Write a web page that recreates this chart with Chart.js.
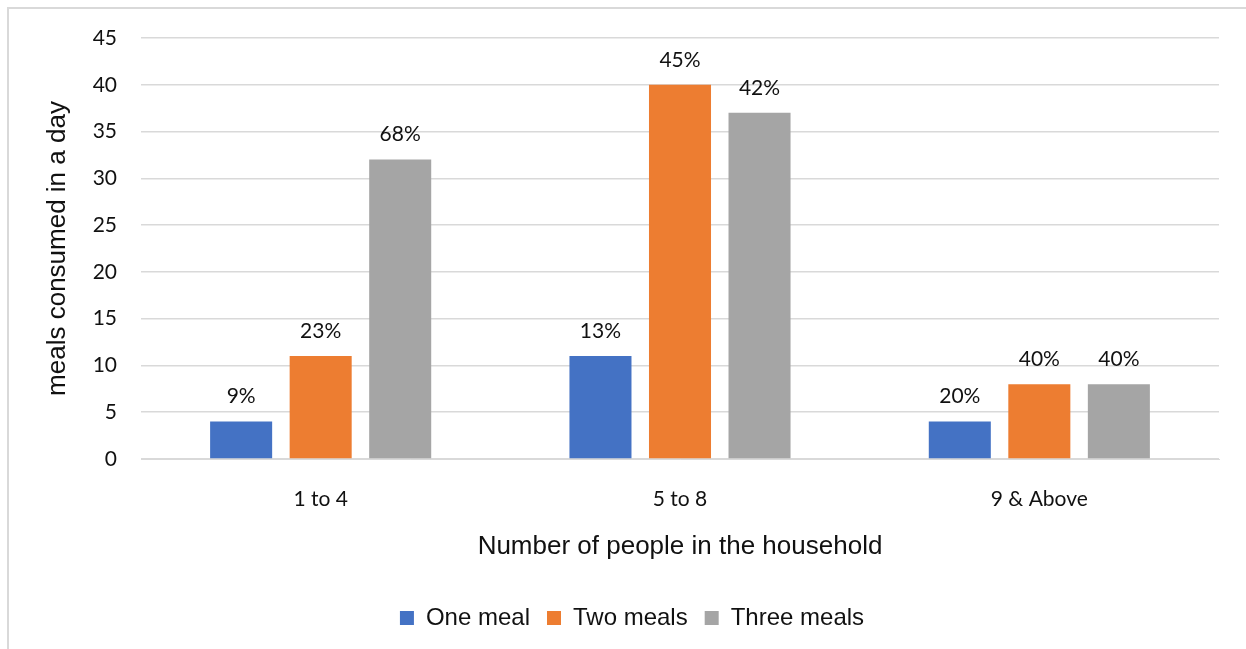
<!DOCTYPE html>
<html>
<head>
<meta charset="utf-8">
<script src="https://cdn.jsdelivr.net/npm/chart.js@4"></script>
<style>
  html, body { margin: 0; padding: 0; background: #fff; overflow: hidden; }
  #frame { position: absolute; left: 7px; top: 7px; width: 1260px; height: 680px; border: 2px solid #d9d9d9; }
  #wrap { position: absolute; left: 0; top: 0; width: 1246px; height: 649px; }
</style>
</head>
<body>
<div id="frame"></div>
<div id="wrap"><canvas id="mealsChart"></canvas></div>
<script>
const categories = ["1 to 4", "5 to 8", "9 & Above"];
const oneMeal = [4, 11, 4];
const twoMeals = [11, 40, 8];
const threeMeals = [32, 37, 8];
const oneMealPct = ["9%", "13%", "20%"];
const twoMealsPct = ["23%", "45%", "40%"];
const threeMealsPct = ["68%", "42%", "40%"];

const tickFont = { family: "Lato", size: 21 };
const titleFont = { family: "Liberation Sans", size: 26 };

// share labels above each bar
const pctLabels = {
    id: "pctLabels",
    afterDatasetsDraw(chart) {
        const ctx = chart.ctx;
        ctx.save();
        ctx.font = "21px Lato";
        ctx.fillStyle = "#111";
        ctx.textAlign = "center";
        ctx.textBaseline = "middle";
        chart.data.datasets.forEach((ds, i) => {
            chart.getDatasetMeta(i).data.forEach((bar, j) => {
                ctx.fillText(ds.pct[j], bar.x, bar.y - 25);
            });
        });
        ctx.restore();
    }
};

const CHART = document.getElementById("mealsChart");
var mealsChart = new Chart(CHART, {
    type: "bar",
    data: {
        labels: categories,
        datasets: [
            { label: "One meal", data: oneMeal, pct: oneMealPct, backgroundColor: "#4472C4" },
            { label: "Two meals", data: twoMeals, pct: twoMealsPct, backgroundColor: "#ED7D31" },
            { label: "Three meals", data: threeMeals, pct: threeMealsPct, backgroundColor: "#A5A5A5" }
        ]
    },
    options: {
        responsive: true,
        maintainAspectRatio: false,
        animation: false,
        categoryPercentage: 0.664,
        barPercentage: 0.78,
        layout: { padding: { left: 18, right: 0, top: 38, bottom: 9 } },
        plugins: {
            tooltip: { enabled: false },
            legend: {
                position: "bottom",
                labels: {
                    boxWidth: 14,
                    boxHeight: 14,
                    padding: 17,
                    color: "#111",
                    font: { family: "Liberation Sans", size: 24 }
                }
            }
        },
        scales: {
            x: {
                grid: { display: false },
                border: { color: "#d9d9d9" },
                ticks: { color: "#111", font: tickFont, padding: 20 },
                title: {
                    display: true,
                    text: "Number of people in the household",
                    color: "#111",
                    font: titleFont,
                    padding: { top: 10, bottom: 27 }
                },
                afterFit(scale) { scale.height = 130; }
            },
            y: {
                min: 0,
                max: 45,
                ticks: { stepSize: 5, color: "#111", font: tickFont, padding: 24 },
                grid: { color: "#d9d9d9", drawTicks: false, lineWidth: 1.5 },
                border: { display: false },
                title: {
                    display: true,
                    text: "meals consumed in a day",
                    color: "#111",
                    font: titleFont,
                    padding: { top: 24, bottom: 0 }
                },
                afterFit(scale) { scale.width = 123; }
            },
            // empty strip that keeps the right margin
            yRight: {
                position: "right",
                min: 0,
                max: 45,
                ticks: { display: false },
                grid: { display: false },
                border: { display: false },
                afterFit(scale) { scale.width = 27; }
            }
        }
    },
    plugins: [pctLabels]
});
</script>
</body>
</html>
